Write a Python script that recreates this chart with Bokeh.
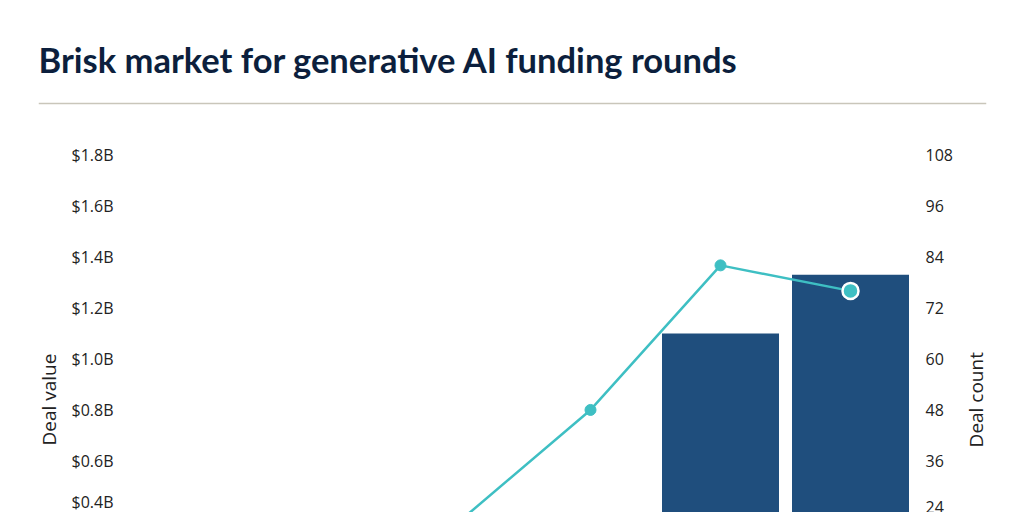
import math

import bokeh.layouts
import bokeh.models
import bokeh.plotting
from bokeh.embed import file_html
from bokeh.resources import INLINE

# data (lower part of the chart is cropped in the reference; first values estimated)
years = ["2018", "2019", "2020", "2021", "2022", "2023"]
deal_value = [0.05, 0.12, 0.2, 0.33, 1.10, 1.33]   # $B
deal_count = [6, 10, 22, 48, 82, 76]
value_ticks = [0.0, 0.2, 0.4, 0.6, 0.8, 1.0, 1.2, 1.4, 1.6, 1.8]
count_ticks = [0, 12, 24, 36, 48, 60, 72, 84, 96, 108]

NAVY = "#0c1f3d"
BAR = "#1f4e7d"
TEAL = "#3ebfc3"
TEXT = "#222222"
FONT = "Open Sans"

# header: title + rule
head = bokeh.plotting.figure(
    width=1008, height=110, x_range=(0, 1), y_range=(0, 1),
    toolbar_location=None, output_backend="svg",
    min_border_left=38, min_border_right=22, min_border_top=84, min_border_bottom=0,
    title="Brisk market for generative AI funding rounds",
)
head.frame_align = False
head.title.text_font = "Lato"
head.title.text_font_style = "bold"
head.title.text_font_size = "34.5px"
head.title.text_color = NAVY
head.title.standoff = 10
head.title.offset = 0
head.axis.visible = False
head.grid.visible = False
head.outline_line_color = None
head.add_layout(bokeh.models.Span(location=0.27, dimension="width", line_color="#c9c6ba", line_width=1.5))

# main chart
p = bokeh.plotting.figure(
    width=960, height=402, x_range=bokeh.models.FactorRange(*years),
    y_range=(0.398, 1.86),
    toolbar_location=None, output_backend="svg",
    min_border_left=135, min_border_right=45, min_border_top=29, min_border_bottom=0,
)
p.frame_align = False
p.extra_y_ranges = {"count": bokeh.models.Range1d(0.398 * 60, 1.86 * 60)}

source = bokeh.models.ColumnDataSource(data=dict(year=years, value=deal_value, count=deal_count))
p.vbar(x="year", top="value", width=0.9, source=source, fill_color=BAR, line_color=None)
p.line("year", "count", source=source, y_range_name="count", line_color=TEAL, line_width=2.5)
p.scatter("year", "count", source=source, y_range_name="count", size=11,
          fill_color=TEAL, line_color=TEAL)
last = bokeh.models.ColumnDataSource(data=dict(year=years[-1:], count=deal_count[-1:]))
p.scatter("year", "count", source=last, y_range_name="count", size=16,
          fill_color=TEAL, line_color="white", line_width=2.5)

p.yaxis.ticker = bokeh.models.FixedTicker(ticks=value_ticks)
p.yaxis.major_label_overrides = {t: "${:.1f}B".format(t) for t in value_ticks}

right = bokeh.models.LinearAxis(y_range_name="count",
                                ticker=bokeh.models.FixedTicker(ticks=count_ticks))
p.add_layout(right, "right")

for ax in p.yaxis:
    ax.axis_line_color = None
    ax.major_tick_line_color = None
    ax.minor_tick_line_color = None
    ax.major_tick_out = 0
    ax.major_label_text_font = FONT
    ax.major_label_text_font_size = "16px"
    ax.major_label_text_color = TEXT
p.yaxis[0].major_label_standoff = 22
right.major_label_standoff = 10

# left axis title, shifted down like the reference
p.add_layout(bokeh.models.Title(
    text="Deal value", align="left", offset=67, standoff=13,
    text_font=FONT, text_font_size="19px", text_font_style="normal", text_color=TEXT,
), "left")

p.xaxis.visible = False
p.grid.visible = False
p.outline_line_color = None

# right axis title, in a narrow strip so it can read upwards
side = bokeh.plotting.figure(
    width=48, height=402, x_range=(0, 48), y_range=p.y_range,
    toolbar_location=None, output_backend="svg",
    min_border_left=0, min_border_right=0, min_border_top=29, min_border_bottom=0,
)
side.frame_align = False
side.text(x=[15], y=[0.84], text=["Deal count"], angle=math.pi / 2,
          text_align="center", text_baseline="middle",
          text_font=bokeh.core.properties.value(FONT), text_font_size="19px", text_color=TEXT)
side.axis.visible = False
side.grid.visible = False
side.outline_line_color = None

layout = bokeh.layouts.column(head, bokeh.layouts.row(p, side, spacing=0), spacing=0)
open("out.html", "w").write(file_html(layout, INLINE))
